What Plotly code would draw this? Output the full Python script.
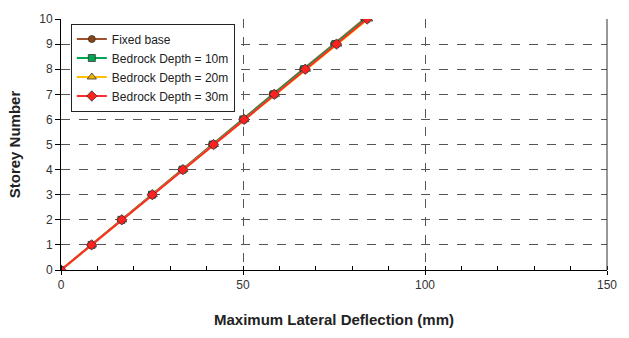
import plotly.graph_objects as go

# Storey levels and maximum lateral deflection (mm) per foundation case
storeys = [0, 1, 2, 3, 4, 5, 6, 7, 8, 9, 10]
fixed_base = [0, 8.3, 16.5, 24.8, 33.2, 41.5, 49.9, 58.1, 66.5, 75.0, 83.3]
bedrock_10m = [0, 8.4, 16.6, 25.0, 33.4, 41.7, 50.1, 58.4, 66.8, 75.4, 83.7]
bedrock_20m = [0, 8.5, 16.8, 25.2, 33.6, 42.0, 50.4, 58.8, 67.3, 75.9, 84.4]
bedrock_30m = [0, 8.4, 16.7, 25.1, 33.5, 41.9, 50.3, 58.6, 67.1, 75.7, 84.1]

series = [
    ("Fixed base", fixed_base, "#a0522d", "#8b4513", "circle", 7),
    ("Bedrock Depth = 10m", bedrock_10m, "#00a651", "#00a651", "square", 7),
    ("Bedrock Depth = 20m", bedrock_20m, "#ffc000", "#f0b400", "triangle-up", 8),
    ("Bedrock Depth = 30m", bedrock_30m, "#ff2a2a", "#ff2020", "diamond", 8),
]

fig = go.Figure()
for name, xs, line_col, mk_col, symbol, size in series:
    fig.add_trace(go.Scatter(
        x=xs, y=storeys, name=name, mode="lines+markers",
        line=dict(color=line_col, width=2),
        marker=dict(symbol=symbol, size=size, color=mk_col,
                    line=dict(color="#333333", width=0.8)),
    ))

font = "Liberation Sans, Arial, sans-serif"
fig.update_layout(
    width=629, height=338,
    margin=dict(l=61, r=16, t=12, b=66),
    paper_bgcolor="white", plot_bgcolor="white",
    font=dict(family=font, size=12, color="#333333"),
    showlegend=True,
    legend=dict(
        x=0.018, y=0.982, xanchor="left", yanchor="top",
        bgcolor="white", bordercolor="#222222", borderwidth=1,
        font=dict(family=font, size=12, color="#222222"),
        tracegroupgap=0, itemwidth=30,
    ),
    xaxis=dict(
        range=[0, 150], tickvals=[0, 50, 100, 150],
        showline=True, linecolor="black", linewidth=1,
        ticks="outside", ticklen=4, tickcolor="black",
        minor=dict(dtick=10, ticks="inside", ticklen=4, tickcolor="black", showgrid=False),
        showgrid=True, gridcolor="#555555", gridwidth=1, griddash="dash",
        zeroline=False,
        title=dict(text="<b>Maximum Lateral Deflection (mm)</b>",
                   font=dict(family=font, size=15, color="#222222"), standoff=23),
    ),
    yaxis=dict(
        range=[0, 10], dtick=1,
        showline=True, linecolor="black", linewidth=1,
        ticks="outside", ticklen=5, tickcolor="black",
        showgrid=True, gridcolor="#555555", gridwidth=1, griddash="dash",
        zeroline=False,
        title=dict(text="<b>Storey Number</b>",
                   font=dict(family=font, size=15, color="#222222"), standoff=14),
    ),
    shapes=[dict(type="line", xref="paper", yref="paper", x0=1, x1=1, y0=0, y1=1,
                 line=dict(color="#333333", width=1))],
)

fig.write_html("out.html")
